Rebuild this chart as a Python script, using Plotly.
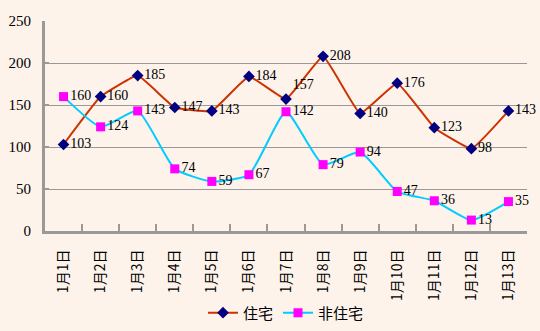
import plotly.graph_objects as go

days = ["1月1日", "1月2日", "1月3日", "1月4日", "1月5日", "1月6日", "1月7日",
        "1月8日", "1月9日", "1月10日", "1月11日", "1月12日", "1月13日"]
residential = [103, 160, 185, 147, 143, 184, 157, 208, 140, 176, 123, 98, 143]
non_residential = [160, 124, 143, 74, 59, 67, 142, 79, 94, 47, 36, 13, 35]

bg = "#FDF3EB"
txt_font = dict(family="Liberation Serif, Noto Sans CJK SC", size=14, color="#000000")

# labels sit to the right of each point; the 1月7日 residential label is nudged
# upward so it clears the non-residential label just below it
res_pos = ["middle right"] * len(days)
res_pos[6] = "top right"

fig = go.Figure()
fig.add_trace(go.Scatter(
    x=days, y=residential, name="住宅", mode="lines+markers+text",
    line=dict(color="#CC3300", width=2, shape="spline", smoothing=0.3),
    marker=dict(symbol="diamond", size=9, color="#000080"),
    text=[str(v) for v in residential], textposition=res_pos,
    textfont=txt_font, cliponaxis=False,
))
fig.add_trace(go.Scatter(
    x=days, y=non_residential, name="非住宅", mode="lines+markers+text",
    line=dict(color="#00CCFF", width=2, shape="spline", smoothing=0.5),
    marker=dict(symbol="square", size=9, color="#FF00FF"),
    text=[str(v) for v in non_residential], textposition="middle right",
    textfont=txt_font, cliponaxis=False,
))

fig.update_layout(
    width=540, height=331,
    margin=dict(l=45, r=13, t=21, b=100, autoexpand=False),
    paper_bgcolor=bg, plot_bgcolor=bg,
    showlegend=True,
    legend=dict(orientation="h", x=0.5, xanchor="center", y=-0.39, yanchor="middle",
                font=dict(family="Noto Sans CJK SC", size=15, color="#000000"),
                bgcolor="rgba(0,0,0,0)", itemwidth=30),
    font=txt_font,
)
fig.update_xaxes(
    type="category", showgrid=False, showline=True, linecolor="#999999", linewidth=3,
    ticks="inside", tickson="boundaries", ticklen=7, tickcolor="#999999", tickwidth=2,
    tickangle=-90, tickfont=dict(family="Noto Sans CJK SC", size=14, color="#000000"),
    ticklabelstandoff=10,
    range=[-0.5, 12.5], automargin=False,
)
fig.update_yaxes(
    range=[0, 250], dtick=50, showgrid=True, gridcolor="#999999", gridwidth=1,
    showline=True, linecolor="#999999", linewidth=3, zeroline=False,
    ticks="inside", ticklen=4, tickcolor="#999999", tickwidth=2, automargin=False,
    ticklabelstandoff=8,
    tickfont=dict(family="Liberation Serif", size=15, color="#000000"),
)

fig.write_html("out.html")
